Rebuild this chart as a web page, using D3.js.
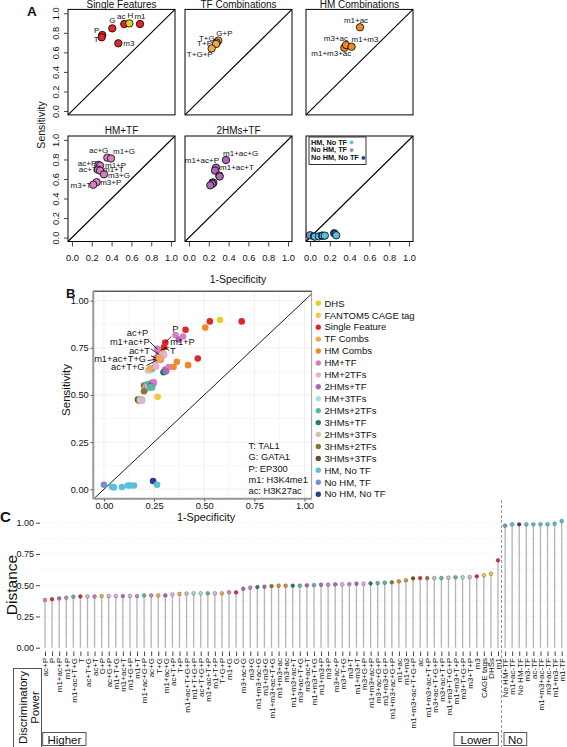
<!DOCTYPE html>
<html><head><meta charset="utf-8">
<script src="https://cdn.jsdelivr.net/npm/d3@7"></script>
<style>
body{margin:0;background:#fff}
svg{display:block}
text{font-family:"Liberation Sans",Arial,Helvetica,sans-serif;fill:#111}
</style>
</head><body>
<svg id="c" width="567" height="747"></svg>
<script>
// ================= DATA =================
// feature combinations, ordered as in panel C (increasing distance)
const featureNames = ["ac+P","P","m1+ac+P","m1+P","m1+ac+T+G","T","ac+T+G","ac+T","G+P","ac+G+P",
 "m1+T+G","m1+ac+T","m1+G+P","m1+T","m1+ac+G+P","ac+G","T+G","m1+ac+G","ac+T+P","T+P",
 "m1+ac+T+G+P","m1+T+G+P","ac+T+G+P","m1+ac+T+P","m1+T+P","T+G+P","m1+G","G","m3+ac+G","m3+G",
 "m1+m3+ac+G","m1+m3+G","m1+m3+ac+T+G","m1+m3+ac","m3+ac","m1+m3+ac+T","m3+ac+T+G","m3+ac+T","m1+m3+T+G","m1+m3+P",
 "m3+P","m3+ac+P","m3+T+G","m3+T","m1+m3+T","m3+G+P","m1+m3+ac+P","m3+ac+G+P","m1+m3+G+P","m1+m3+ac+G+P",
 "m1+ac","m1+m3","m1+m3+ac+T+G+P","ac","m1+m3+ac+T+P","m3+ac+T+G+P","m3+ac+T+P","m1+m3+T+G+P","m1+m3+T+P","m3+T+G+P",
 "m3+T+P","m3","CAGE tags","DHSs","m1","No HM+TF","m1+ac-TF","No HM-TF","m3-TF","ac-TF",
 "m1+m3+ac-TF","m3+ac-TF","m1+m3-TF","m1-TF"];
const featureGroups = ["HM+TF","Single Feature","2HMs+TF","HM+TF","2HMs+2TFs","Single Feature","HM+2TFs","HM+TF","TF Combs","HM+2TFs",
 "HM+2TFs","2HMs+TF","HM+2TFs","HM+TF","2HMs+2TFs","HM+TF","TF Combs","2HMs+TF","HM+2TFs","TF Combs",
 "2HMs+3TFs","HM+3TFs","HM+3TFs","2HMs+2TFs","HM+2TFs","TF Combs","HM+TF","Single Feature","2HMs+TF","HM+TF",
 "3HMs+TF","2HMs+TF","3HMs+2TFs","HM Combs","HM Combs","3HMs+TF","2HMs+2TFs","2HMs+TF","2HMs+2TFs","2HMs+TF",
 "HM+TF","2HMs+TF","HM+2TFs","HM+TF","2HMs+TF","HM+2TFs","3HMs+TF","2HMs+2TFs","2HMs+2TFs","3HMs+2TFs",
 "HM Combs","HM Combs","3HMs+3TFs","Single Feature","3HMs+2TFs","2HMs+3TFs","2HMs+2TFs","2HMs+3TFs","2HMs+2TFs","HM+3TFs",
 "HM+2TFs","Single Feature","FANTOM5 CAGE tag","DHS","Single Feature","No HM, TF","HM, No TF","No HM, No TF","HM, No TF","HM, No TF",
 "HM, No TF","HM, No TF","HM, No TF","HM, No TF"];
// distance to the perfect classifier (panel C)
const distanceValues = [0.382,0.388,0.395,0.400,0.408,0.410,0.410,0.410,0.413,0.413,
 0.413,0.413,0.413,0.413,0.418,0.418,0.418,0.418,0.425,0.430,
 0.433,0.435,0.435,0.435,0.435,0.435,0.443,0.443,0.472,0.480,
 0.485,0.488,0.493,0.496,0.496,0.496,0.496,0.499,0.501,0.504,
 0.504,0.507,0.507,0.509,0.512,0.512,0.515,0.517,0.520,0.523,
 0.531,0.539,0.555,0.557,0.557,0.557,0.557,0.560,0.563,0.563,
 0.565,0.571,0.579,0.592,0.699,0.976,0.987,0.987,0.987,0.987,
 0.987,0.987,0.992,1.013];
// 1-Specificity (panels A, B)
const oneMinusSpecificity = [0.266,0.306,0.273,0.283,0.260,0.300,0.265,0.260,0.296,0.290,
 0.270,0.263,0.300,0.283,0.275,0.357,0.280,0.374,0.255,0.273,
 0.220,0.240,0.230,0.240,0.260,0.229,0.394,0.407,0.306,0.323,
 0.297,0.310,0.200,0.347,0.364,0.220,0.215,0.240,0.225,0.246,
 0.249,0.235,0.210,0.215,0.215,0.220,0.230,0.230,0.240,0.200,
 0.505,0.420,0.170,0.528,0.175,0.180,0.185,0.190,0.190,0.185,
 0.190,0.468,0.268,0.579,0.687,0.000,0.040,0.245,0.050,0.090,
 0.120,0.130,0.150,0.265];
// Sensitivity (panels A, B)
const sensitivityValues = [0.744,0.778,0.716,0.737,0.690,0.754,0.685,0.696,0.720,0.710,
 0.690,0.686,0.710,0.686,0.690,0.818,0.700,0.794,0.660,0.686,
 0.630,0.635,0.630,0.640,0.650,0.640,0.810,0.846,0.635,0.648,
 0.620,0.625,0.550,0.648,0.676,0.555,0.557,0.565,0.550,0.560,
 0.567,0.550,0.540,0.541,0.535,0.540,0.545,0.540,0.540,0.520,
 0.857,0.658,0.475,0.890,0.470,0.475,0.475,0.475,0.470,0.470,
 0.470,0.693,0.490,0.897,0.890,0.024,0.013,0.044,0.010,0.012,
 0.020,0.020,0.020,0.024];
const groupNames = ["DHS","FANTOM5 CAGE tag","Single Feature","TF Combs","HM Combs","HM+TF","HM+2TFs","2HMs+TF",
 "HM+3TFs","2HMs+2TFs","3HMs+TF","2HMs+3TFs","3HMs+2TFs","3HMs+3TFs","HM, No TF","No HM, TF","No HM, No TF"];
const groupColors = ["#e2d21f","#f6c63e","#e0262b","#f6a94b","#ee8a2a","#d57ec2","#dfb5da","#ae67b7",
 "#aadcdc","#5cb6a8","#1e7c68","#cfc6ad","#8c7436","#6b5020","#58bfdf","#7b8ecf","#2d3c8e"];
const panelATitles = ["Single Features","TF Combinations","HM Combinations","HM+TF","2HMs+TF",""];
const ticksA = [0,0.2,0.4,0.6,0.8,1.0];
const ticksB = [0,0.25,0.5,0.75,1.0];
const ticksC = [0,0.25,0.5,0.75,1.0];
const abbreviations = ["T: TAL1","G: GATA1","P: EP300","m1: H3K4me1","ac: H3K27ac"];
const bLabelled = ["ac+P","P","m1+ac+P","m1+P","ac+T","T","m1+ac+T+G","ac+T+G"];
const powerBoxes = ["Higher","Lower","No"];

// ================= SETUP =================
const svg = d3.select("#c");
const colorOf = d3.scaleOrdinal().domain(groupNames).range(groupColors);
const feats = featureNames.map((n,i)=>({name:n, group:featureGroups[i], dist:distanceValues[i],
  fpr:oneMinusSpecificity[i], sens:sensitivityValues[i]}));

// ================= PANEL A =================
const aCols=[68,185,306], aRows=[9.4,136], aW=107, aH=105.5;
const aPanels = [
  {groups:["Single Feature","DHS"], rename:{"DHSs":"H"}, lab:true},
  {groups:["TF Combs"], lab:true},
  {groups:["HM Combs"], lab:true},
  {groups:["HM+TF"], lab:true},
  {groups:["2HMs+TF"], lab:["m1+ac+G","m1+ac+P","m1+ac+T"]},
  {groups:["HM, No TF","No HM, TF","No HM, No TF"], lab:false}
];
// label placements [anchor, dx, dy] (layout only)
const aPlace = {
  "P":["end",-3,-2],"T":["end",-3,4.5],"G":["middle",0,-5.5],"ac":["middle",-3,-5.5],"H":["middle",1,-5.5],
  "m1":["middle",0,-5.5],"m3":["start",5,3],
  "G+P":["start",-2,-5],"T+G":["end",-2,-2],"T+P":["end",-4,2.5],"T+G+P":["end",1,8.5],
  "m1+ac":["middle",-4,-4],"m3+ac":["end",2,-4],"m1+m3":["start",0,-5],"m1+m3+ac":["end",7,8.5],
  "ac+G":["end",1,-5],"m1+G":["start",2,-4],"ac+P":["end",-2,1.5],"m1+P":["start",5,2],
  "ac+T":["end",-1,2.5],"m1+T":["start",3,1],"m3+G":["start",4,4],"m3+P":["start",3.5,3],"m3+T":["end",-2,3.5],
  "m1+ac+G":["start",-3,-4],"m1+ac+P":["end",3,-4.5],"m1+ac+T":["start",5,-0.5]
};
aPanels.forEach((p,k)=>{
  const col=k%3, row=Math.floor(k/3);
  const L=aCols[col], T=aRows[row];
  const x=d3.scaleLinear().domain([-0.04,1.04]).range([L,L+aW]);
  const y=d3.scaleLinear().domain([-0.04,1.04]).range([T+aH,T]);
  const g=svg.append("g");
  g.append("line").attr("x1",x(-0.04)).attr("y1",y(-0.04)).attr("x2",x(1.04)).attr("y2",y(1.04))
    .attr("stroke","#000").attr("stroke-width",1.1);
  const pts=feats.filter(f=>p.groups.includes(f.group));
  g.selectAll("circle").data(pts).join("circle")
    .attr("cx",d=>x(d.fpr)).attr("cy",d=>y(d.sens)).attr("r",3.7)
    .attr("fill",d=>colorOf(d.group)).attr("stroke","#000").attr("stroke-width",0.8);
  if(p.lab){
    pts.forEach(d=>{
      const nm=(p.rename&&p.rename[d.name])||d.name;
      if(Array.isArray(p.lab)&&!p.lab.includes(nm)) return;
      const pl=aPlace[nm]; if(!pl) return;
      g.append("text").attr("x",x(d.fpr)+pl[1]).attr("y",y(d.sens)+pl[2])
        .attr("text-anchor",pl[0]).attr("font-size",8).text(nm);
    });
  }
  g.append("rect").attr("x",L).attr("y",T).attr("width",aW).attr("height",aH)
    .attr("fill","none").attr("stroke","#000").attr("stroke-width",1);
  if(panelATitles[k]) g.append("text").attr("x",L+aW/2).attr("y",T-1.6).attr("text-anchor","middle")
    .attr("font-size",10).text(panelATitles[k]);
  if(col===0){
    const ax=g.append("g").attr("transform",`translate(${L},0)`)
      .call(d3.axisLeft(y).tickValues(ticksA).tickFormat(d3.format(".1f")).tickSize(4));
    ax.select(".domain").remove();
    ax.selectAll("line").attr("stroke","#444");
    ax.selectAll("text").attr("transform","rotate(-90)").attr("x",0).attr("y",-9).attr("dy",0)
      .attr("text-anchor","middle").attr("font-size",9.3).attr("fill","#111");
  }
  if(row===1){
    const ax=g.append("g").attr("transform",`translate(0,${T+aH})`)
      .call(d3.axisBottom(x).tickValues(ticksA).tickFormat(d3.format(".1f")).tickSize(5));
    ax.select(".domain").remove();
    ax.selectAll("line").attr("stroke","#444");
    ax.selectAll("text").attr("y",13).attr("font-size",9.3).attr("fill","#111");
  }
  if(k===5){
    const lg=g.append("g");
    const items=["HM, No TF","No HM, TF","No HM, No TF"];
    lg.append("rect").attr("x",L+3).attr("y",T+1).attr("width",57).attr("height",27.5)
      .attr("fill","#fff").attr("stroke","#000").attr("stroke-width",0.8);
    items.forEach((it,i)=>{
      const t=lg.append("text").attr("x",L+5).attr("y",T+8.6+i*7.8).attr("font-size",7.3)
        .attr("font-weight","bold").text(it);
      const w=t.node().getComputedTextLength();
      lg.append("circle").attr("cx",L+5+w+4.5).attr("cy",T+6.3+i*7.8).attr("r",1.9).attr("fill",colorOf(it));
    });
  }
});
svg.append("text").attr("x",27).attr("y",16).attr("font-size",13.5).attr("font-weight","bold").text("A");
svg.append("text").attr("transform","translate(45,125) rotate(-90)").attr("text-anchor","middle")
  .attr("font-size",10.5).text("Sensitivity");
svg.append("text").attr("x",238).attr("y",283).attr("text-anchor","middle").attr("font-size",10.5).text("1-Specificity");

// ================= PANEL B =================
const bx=d3.scaleLinear().domain([-0.053,1.036]).range([93.3,311.7]);
const by=d3.scaleLinear().domain([-0.05,1.05]).range([498.7,291.2]);
const gB=svg.append("g");
d3.range(0,9).forEach(i=>{
  const v=i*0.125, c=(i%2===0)?"#e4e4e4":"#f0f0f0";
  gB.append("line").attr("x1",bx(v)).attr("x2",bx(v)).attr("y1",291.2).attr("y2",498.7)
    .attr("stroke",c).attr("stroke-width",0.6);
  gB.append("line").attr("y1",by(v)).attr("y2",by(v)).attr("x1",93.3).attr("x2",311.7)
    .attr("stroke",c).attr("stroke-width",0.6);
});
gB.append("defs").append("clipPath").attr("id","clipB").append("rect")
  .attr("x",93.3).attr("y",291.2).attr("width",218.4).attr("height",207.5);
gB.append("line").attr("clip-path","url(#clipB)")
  .attr("x1",bx(-0.06)).attr("y1",by(-0.06)).attr("x2",bx(1.06)).attr("y2",by(1.06))
  .attr("stroke","#000").attr("stroke-width",0.9);
gB.selectAll("circle.b").data(feats).join("circle").attr("class","b")
  .attr("cx",d=>bx(d.fpr)).attr("cy",d=>by(d.sens)).attr("r",3.3)
  .attr("fill",d=>colorOf(d.group));
const bPlace={"ac+P":[-9,-13],"P":[7,-11],"m1+ac+P":[-9,-9.5],"m1+P":[9.5,-5],"ac+T":[-6,-4],"T":[6,6.5],
  "m1+ac+T+G":[-10,3],"ac+T+G":[-12.5,10]};
feats.filter(f=>bLabelled.includes(f.name)).forEach(d=>{
  const [dx,dy]=bPlace[d.name];
  const px=bx(d.fpr), py=by(d.sens);
  gB.append("line").attr("x1",px).attr("y1",py).attr("x2",px+dx*0.85).attr("y2",py+dy*0.55)
    .attr("stroke","#000").attr("stroke-width",0.8);
  gB.append("text").attr("x",px+dx).attr("y",py+dy).attr("text-anchor",dx<0?"end":"start")
    .attr("font-size",9.3).text(d.name);
});
gB.append("rect").attr("x",93.3).attr("y",291.2).attr("width",218.4).attr("height",207.5)
  .attr("fill","none").attr("stroke","#888").attr("stroke-width",0.8);
gB.append("line").attr("x1",93.3).attr("x2",311.7).attr("y1",291.2).attr("y2",291.2).attr("stroke","#111").attr("stroke-width",0.8);
gB.append("line").attr("x1",93.3).attr("x2",93.3).attr("y1",291.2).attr("y2",498.7).attr("stroke","#999").attr("stroke-width",2);
gB.append("line").attr("x1",93.3).attr("x2",311.7).attr("y1",498.7).attr("y2",498.7).attr("stroke","#999").attr("stroke-width",2);
{
  const ay=gB.append("g").attr("transform","translate(93.3,0)")
    .call(d3.axisLeft(by).tickValues(ticksB).tickFormat(d3.format(".2f")).tickSize(3).tickPadding(1.5));
  ay.select(".domain").remove(); ay.selectAll("line").attr("stroke","#666");
  ay.selectAll("text").attr("font-size",9.3).attr("fill","#111");
  const ax=gB.append("g").attr("transform","translate(0,498.7)")
    .call(d3.axisBottom(bx).tickValues(ticksB).tickFormat(d3.format(".2f")).tickSize(3).tickPadding(1));
  ax.select(".domain").remove(); ax.selectAll("line").attr("stroke","#666");
  ax.selectAll("text").attr("font-size",9.3).attr("fill","#111");
}
abbreviations.forEach((t,i)=>gB.append("text").attr("x",248.5).attr("y",449+i*11.3).attr("font-size",9.3).text(t));
gB.append("text").attr("transform","translate(70,390) rotate(-90)").attr("text-anchor","middle")
  .attr("font-size",11.5).text("Sensitivity");
gB.append("text").attr("x",206).attr("y",521).attr("text-anchor","middle").attr("font-size",10.8).text("1-Specificity");
svg.append("text").attr("x",66).attr("y",298).attr("font-size",13).attr("font-weight","bold").text("B");
// legend
groupNames.forEach((gname,i)=>{
  const yy=303.3+i*11.93;
  gB.append("circle").attr("cx",318.3).attr("cy",yy).attr("r",2.7).attr("fill",groupColors[i]);
  gB.append("text").attr("x",324.5).attr("y",yy+3.3).attr("font-size",9.5).text(gname);
});

// ================= PANEL C =================
const cx=d3.scalePoint().domain(featureNames).range([45,561.7]);
const cy=d3.scaleLinear().domain([0,1]).range([647.7,522.7]);
const gC=svg.append("g");
d3.range(0,9).forEach(i=>{
  gC.append("line").attr("x1",40).attr("x2",567).attr("y1",cy(i*0.125)).attr("y2",cy(i*0.125))
    .attr("stroke","#e2e2e2").attr("stroke-width",0.7).attr("stroke-dasharray","1,2");
});
gC.selectAll("line.stem").data(feats).join("line").attr("class","stem")
  .attr("x1",d=>cx(d.name)).attr("x2",d=>cx(d.name)).attr("y1",cy(0)).attr("y2",d=>cy(d.dist))
  .attr("stroke","#b4b4b4").attr("stroke-width",1.3);
gC.selectAll("circle.c").data(feats).join("circle").attr("class","c")
  .attr("cx",d=>cx(d.name)).attr("cy",d=>cy(d.dist)).attr("r",1.9)
  .attr("fill",d=>colorOf(d.group)).attr("stroke","#444").attr("stroke-width",0.4);
{
  const ay=gC.append("g").attr("transform","translate(40,0)")
    .call(d3.axisLeft(cy).tickValues(ticksC).tickFormat(d3.format(".2f")).tickSize(4).tickPadding(2));
  ay.select(".domain").remove(); ay.selectAll("line").attr("stroke","#444");
  ay.selectAll("text").attr("font-size",9).attr("fill","#111");
  const ax=gC.append("g").attr("transform","translate(0,651.5)")
    .call(d3.axisBottom(cx).tickSize(4.5));
  ax.select(".domain").remove(); ax.selectAll("line").attr("stroke","#444");
  ax.selectAll("text").attr("transform","translate(0,6.5) rotate(-90)").attr("x",0).attr("y",0)
    .attr("dy","0.35em").attr("text-anchor","end").attr("font-size",8).attr("fill","#111");
}
// separator between discriminatory / non-discriminatory
const sepX=(cx("m1")+cx("No HM+TF"))/2;
gC.append("line").attr("x1",sepX).attr("x2",sepX).attr("y1",500).attr("y2",747)
  .attr("stroke","#777").attr("stroke-width",0.8).attr("stroke-dasharray","3,2");
gC.append("text").attr("transform","translate(16.5,585) rotate(-90)").attr("text-anchor","middle")
  .attr("font-size",15.5).text("Distance");
svg.append("text").attr("x",0).attr("y",521.7).attr("font-size",15).attr("font-weight","bold").text("C");
// discriminatory power boxes
gC.append("rect").attr("x",13.5).attr("y",668.5).attr("width",28).attr("height",90)
  .attr("fill","#fff").attr("stroke","#555").attr("stroke-width",1);
gC.append("text").attr("transform","translate(27,707.5) rotate(-90)").attr("text-anchor","middle")
  .attr("font-size",11.5).text("Discriminatory");
gC.append("text").attr("transform","translate(38.5,707.5) rotate(-90)").attr("text-anchor","middle")
  .attr("font-size",11.5).text("Power");
const boxX=[[42.7,86],[454,498.3],[504,526.7]];
powerBoxes.forEach((t,i)=>{
  gC.append("rect").attr("x",boxX[i][0]).attr("y",732.5).attr("width",boxX[i][1]-boxX[i][0]).attr("height",13)
    .attr("fill","#fff").attr("stroke","#555").attr("stroke-width",1);
  gC.append("text").attr("x",(boxX[i][0]+boxX[i][1])/2).attr("y",743.5).attr("text-anchor","middle")
    .attr("font-size",11.5).text(t);
});
</script></body></html>
